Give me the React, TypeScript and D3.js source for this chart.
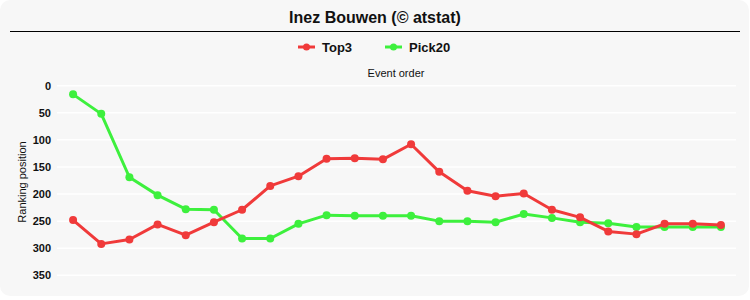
import React from "react";
import * as d3 from "d3";

const events: number[] = d3.range(1, 25);
const top3: number[] = [248, 292, 284, 256, 276, 252, 229, 185, 167, 135, 134, 136, 108, 159, 194, 204, 199, 229, 243, 269, 274, 255, 255, 257];
const pick20: number[] = [16, 52, 169, 202, 228, 229, 282, 282, 255, 239, 240, 240, 240, 250, 250, 252, 237, 244, 252, 254, 261, 261, 261, 261];
const yTicks: number[] = [0, 50, 100, 150, 200, 250, 300, 350];

const W = 750;
const H = 300;
const RED = "#f03a3a";
const GREEN = "#3df03d";
const FONT = "'Liberation Sans', Arial, sans-serif";

export default function App() {
  const x = d3.scalePoint<number>().domain(events).range([59, 735]).padding(0.5);
  const y = d3.scaleLinear().domain([0, 350]).range([85.7, 275.3]);
  const line = d3
    .line<number>()
    .x((_, i) => x(events[i]) as number)
    .y((d) => y(d));

  const series = [
    { name: "Top3", values: top3, color: RED },
    { name: "Pick20", values: pick20, color: GREEN },
  ];

  return (
    <svg width={W} height={H} style={{ position: "absolute", left: 0, top: 0 }} fontFamily={FONT}>
      <rect x={0} y={0} width={W} height={H} fill="#ffffff" />
      <rect x={0} y={0} width={749} height={296} rx={10} ry={10} fill="#f7f7f7" />
      <text x={375} y={23} textAnchor="middle" fontSize={16} fontWeight="bold" fill="#111">
        Inez Bouwen (© atstat)
      </text>
      <line x1={10} x2={740} y1={31.5} y2={31.5} stroke="#000" strokeWidth={1.2} />

      {/* legend */}
      {series.map((s, i) => {
        const lx = i === 0 ? 298 : 385;
        return (
          <g key={s.name}>
            <line x1={lx} x2={lx + 17} y1={47} y2={47} stroke={s.color} strokeWidth={3} />
            <circle cx={lx + 8.5} cy={47} r={3.5} fill={s.color} />
            <text x={lx + 24} y={52} fontSize={13} fontWeight="bold" fill="#111">
              {s.name}
            </text>
          </g>
        );
      })}

      <text x={396} y={77} textAnchor="middle" fontSize={11} fill="#111">
        Event order
      </text>

      {/* gridlines */}
      {yTicks.map((t) => (
        <line key={t} x1={57} x2={736} y1={y(t)} y2={y(t)} stroke="#ffffff" strokeWidth={1.5} />
      ))}
      {yTicks.map((t) => (
        <text key={"l" + t} x={51} y={y(t) + 4} textAnchor="end" fontSize={11} fontWeight="bold" fill="#111">
          {t}
        </text>
      ))}
      <text
        transform={`translate(26,${182}) rotate(-90)`}
        textAnchor="middle"
        fontSize={11}
        fill="#111"
      >
        Ranking position
      </text>

      {series
        .slice()
        .reverse()
        .map((s) => (
          <g key={s.name}>
            <path d={line(s.values) || ""} fill="none" stroke={s.color} strokeWidth={3} strokeLinejoin="round" />
            {s.values.map((v, i) => (
              <circle key={i} cx={x(events[i]) as number} cy={y(v)} r={4} fill={s.color} />
            ))}
          </g>
        ))}
    </svg>
  );
}
